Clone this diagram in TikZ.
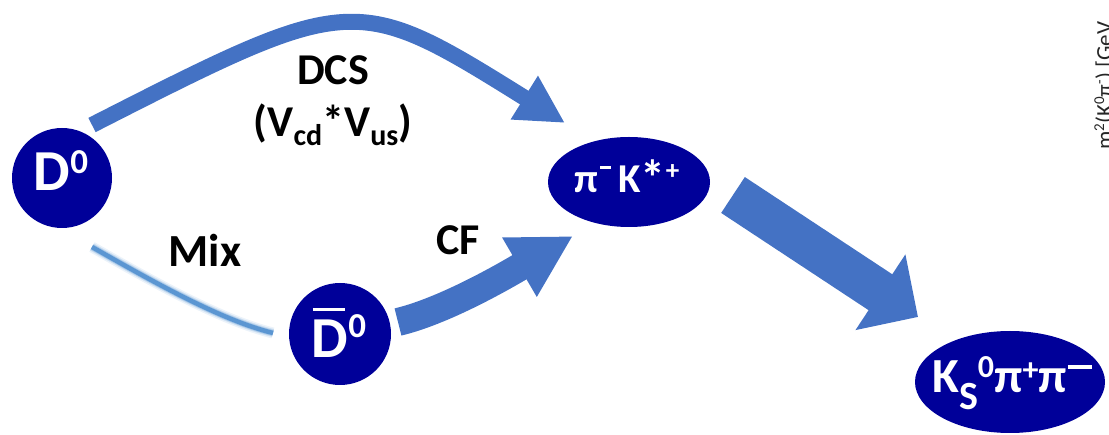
\documentclass[tikz,border=0pt]{standalone}
\usepackage{fontspec}
\setmainfont{Carlito}
\usetikzlibrary{arrows.meta,calc,shapes.geometric}
\definecolor{navy}{RGB}{0,0,153}
\definecolor{flowblue}{RGB}{68,114,196}
\definecolor{mixblue}{RGB}{91,150,210}
\newcommand{\fsz}[1]{\fontsize{#1}{#1}\selectfont}
\newcommand{\up}[3]{\raisebox{#1}{\fsz{#2}#3}}
\begin{document}
\begin{tikzpicture}[x=1pt,y=-1pt,
 particle/.style={fill=navy, draw=none, inner sep=0pt},
 ptext/.style={text=white, inner sep=0pt, anchor=base},
 lbl/.style={text=black, inner sep=0pt, anchor=base, font=\bfseries\fsz{44}},
 flow/.style={draw=flowblue, line cap=butt},
]
\useasboundingbox (0,0) rectangle (1109,435);

% particle shapes
\node[particle, circle, minimum size=100pt] (D0) at (62,178) {};
\node[particle, circle, minimum size=102pt] (Db) at (340,334) {};
\node[particle, ellipse, minimum width=162pt, minimum height=90pt] (PiK) at (629,182) {};
\node[particle, ellipse, minimum width=190pt, minimum height=102pt] (KS) at (1010,382) {};

% particle names
\node[ptext, font=\bfseries\fsz{58}] (D0t) at (61,191) {D\up{17pt}{35}{0}};
\node[ptext, font=\bfseries\fsz{58}] (Dbt) at (339,358) {\makebox[0pt][l]{\hspace{1pt}\rule[47pt]{32pt}{3pt}}D\up{20pt}{35}{0}};
\node[ptext, font=\bfseries\fsz{41}] (PiKt) at (627,193) {π\hspace{2pt}\rule[24pt]{11pt}{3pt}\hspace{7pt}K\up{-3pt}{50}{*}\up{13pt}{27}{+}};
\node[ptext, font=\bfseries\fsz{49}] (KSt) at (1012,393) {K\raisebox{-17pt}{\fsz{40}S}\up{15pt}{32}{0}π\up{12pt}{32}{+}π\hspace{1pt}\rule[24pt]{24pt}{3.5pt}};

% labels
\node[lbl] (DCS) at (333,85) {DCS};
\node[lbl] (CKM) at (333,137) {(V\raisebox{-9pt}{\fsz{30}cd}*V\raisebox{-9pt}{\fsz{30}us})};
\node[lbl, font=\bfseries\fsz{46}] (Mix) at (205,267) {Mix};
\node[lbl] (CF) at (458,255) {CF};

% connectors
\draw[flow, line width=16pt, -{Triangle[length=48pt,width=48pt]}]
  ($(D0)+(30,-53)$) .. controls +(261,-133) and +(-210,-131) .. ($(PiK)+(-64,-59)$);
\draw[flow, line width=28pt, -{Triangle[length=62pt,width=64pt]}]
  ($(Db)+(58,-12)$) .. controls +(50,-12) and +(-60,35) .. ($(PiK)+(-56,54)$);
\draw[flow, line width=43pt, -{Triangle[length=45pt,width=88pt]}]
  ($(PiK)+(104,13)$) -- ($(KS)+(-92,-65)$);
\draw[mixblue, line width=4.5pt, line cap=butt,
  preaction={draw=mixblue, line width=11pt, opacity=0.12},
  preaction={draw=mixblue, line width=8pt, opacity=0.22},
  preaction={draw=mixblue, line width=6pt, opacity=0.35}]
  ($(D0)+(30,69)$) .. controls +(58,33) and +(-53,-13) .. ($(Db)+(-67,-1)$);

% clipped axis label at the right edge
\begin{scope}
\clip (0,0) rectangle (1109,435);
\node[rotate=90, anchor=base west, inner sep=0pt, font=\fsz{23}, text=black!85] (axis) at (1112,150)
  {m\up{8pt}{15}{2}(K\up{8pt}{15}{0}π\up{8pt}{15}{-}) [GeV};
\end{scope}
\end{tikzpicture}
\end{document}
